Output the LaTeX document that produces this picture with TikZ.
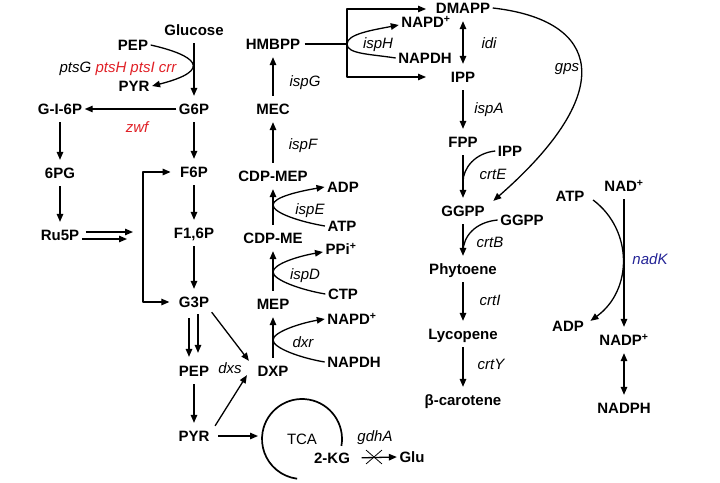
\documentclass[tikz,border=0pt]{standalone}
\usepackage{fontspec}
\setmainfont{Liberation Sans}
\usetikzlibrary{arrows.meta,shapes.misc}
\definecolor{genred}{RGB}{224,32,38}
\definecolor{genblue}{RGB}{36,36,150}
\newcommand\fs{\fontsize{15}{18}\selectfont}
\tikzset{
  met/.style={font=\fs\bfseries, text height=11pt, text depth=0pt, inner xsep=2pt, inner ysep=4pt},
  enz/.style={font=\fs\itshape, text height=11pt, text depth=0pt, inner sep=1pt},
  rx/.style={->, shorten <=3pt, shorten >=3pt},
  knock/.style={cross out, draw, line width=0.8pt, minimum width=15pt, minimum height=13pt, inner sep=0pt}
}
\begin{document}
\begin{tikzpicture}[x=1pt, y=-1pt, >={Triangle[length=8pt,width=6.5pt]}, line width=1.3pt, font=\fs, line join=round]
\def\xa{194} \def\xb{273} \def\xc{463} \def\xd{624} % columns
\useasboundingbox (0,0) rectangle (720,482);
% glycolysis, PPP
\node[met] (glc) at (\xa,30) {Glucose};
\node[met] (pep1) at (133,45) {PEP};
\node[met] (pyr1) at (134,86) {PYR};
\node[met] (g6p) at (\xa,109) {G6P};
\node[met] (gl6p) at (60,109) {G-I-6P};
\node[met] (pg6) at (60,173) {6PG};
\node[met] (ru5p) at (60,235) {Ru5P};
\node[met] (f6p) at (\xa,172) {F6P};
\node[met] (f16p) at (\xa,233) {F1,6P};
\node[met] (g3p) at (\xa,302) {G3P};
\node[met] (pep) at (\xa,371) {PEP};
\node[met] (pyr) at (\xa,436) {PYR};
\node[enz] (epts) at (118,67) {ptsG \textcolor{genred}{ptsH ptsI crr}};
\node[enz, text=genred] (ezwf) at (137,127) {zwf};
\node[enz] (edxs) at (230,368) {dxs};
% MEP pathway
\node[met] (dxp) at (\xb,371) {DXP};
\node[met] (mep) at (\xb,304) {MEP};
\node[met] (cdpme) at (\xb,238) {CDP-ME};
\node[met] (cdpmep) at (\xb,176) {CDP-MEP};
\node[met] (mec) at (\xb,109) {MEC};
\node[met] (hmbpp) at (\xb,44) {HMBPP};
\node[met] (napdp3) at (352,319) {NAPD\textsuperscript{+}};
\node[met] (napdh3) at (354,362) {NAPDH};
\node[met] (ppi) at (341,249) {PPi\textsuperscript{+}};
\node[met] (ctp) at (343,294) {CTP};
\node[met] (adp1) at (343,187) {ADP};
\node[met] (atp1) at (342,226) {ATP};
\node[met] (napdp1) at (426,22) {NAPD\textsuperscript{+}};
\node[met] (napdh1) at (425,58) {NAPDH};
\node[enz] (edxr) at (303,342) {dxr};
\node[enz] (eispD) at (305,274) {ispD};
\node[enz] (eispE) at (310,209) {ispE};
\node[enz] (eispF) at (303,144) {ispF};
\node[enz] (eispG) at (305,81) {ispG};
\node[enz] (eispH) at (378,43) {ispH};
% carotenoids
\node[met] (dmapp) at (\xc,8) {DMAPP};
\node[met] (ipp) at (\xc,77) {IPP};
\node[met] (fpp) at (\xc,142) {FPP};
\node[met] (ipp2) at (510,151) {IPP};
\node[met] (ggpp) at (\xc,211) {GGPP};
\node[met] (ggpp2) at (522,220) {GGPP};
\node[met] (phy) at (\xc,269) {Phytoene};
\node[met] (lyc) at (\xc,334) {Lycopene};
\node[met] (bcar) at (\xc,400) {β-carotene};
\node[enz] (eidi) at (489,43) {idi};
\node[enz] (eispA) at (489,108) {ispA};
\node[enz] (egps) at (567,66) {gps};
\node[enz] (ecrtE) at (493,174) {crtE};
\node[enz] (ecrtB) at (490,242) {crtB};
\node[enz] (ecrtI) at (490,300) {crtI};
\node[enz] (ecrtY) at (491,364) {crtY};
% NADPH
\node[met] (atp2) at (570,196) {ATP};
\node[met] (nad) at (\xd,186) {NAD\textsuperscript{+}};
\node[met] (adp2) at (568,326) {ADP};
\node[met] (nadp) at (\xd,340) {NADP\textsuperscript{+}};
\node[met] (nadph) at (\xd,408) {NADPH};
\node[enz, text=genblue] (enadK) at (650,259) {nadK};
% TCA
\node (tca) at (302,439) {TCA};
\node[met] (kg) at (332,458) {2-KG};
\node[met] (glu) at (412,457) {Glu};
\node[enz] (egdhA) at (375,436) {gdhA};
\node[knock] (ko) at (374,457) {};
\coordinate (Jh) at (347,44);
\coordinate (dmin) at (426,9);
\coordinate (ippin) at (426,77);
\coordinate (Je) at (\xb,205);
\coordinate (Jd) at (\xb,272);
\coordinate (Jr) at (\xb,340);
\coordinate (Jc) at (\xc,182);
\coordinate (Jb) at (\xc,252);
\coordinate (bk) at (143,235);
\coordinate (r1) at (133,232);
\coordinate (r2) at (127,239);
\coordinate (tcain) at (258,436);

\draw[rx] (glc) -- (g6p);
\draw[->] (pep1.east) .. controls (195,55) and (215,70) .. (pyr1.east);
\draw[->] (g6p) -- (gl6p);
\draw[rx] (gl6p) -- (pg6);
\draw[rx] (pg6) -- (ru5p);
\draw[->] ([shift={(4,0)}]ru5p.east |- r1) -- (r1);
\draw[->] (ru5p.east |- r2) -- (r2);
\draw[->] (bk) |- ([shift={(-7,0)}]f6p.west);
\draw[->] (bk) |- ([shift={(-7,0)}]g3p.west);
\draw[rx] (g6p) -- (f6p);
\draw[rx] (f6p) -- (f16p);
\draw[rx] (f16p) -- (g3p);
\draw[->] ([shift={(-5,6)}]g3p.south) -- ([shift={(-5,-4)}]pep.north);
\draw[->] ([shift={(4,2)}]g3p.south) -- ([shift={(4,-8)}]pep.north);
\draw[rx] (pep) -- (pyr);
\draw[->] (g3p.south east) -- ([shift={(-6,0)}]dxp.north west);
\draw[->] ([shift={(3,0)}]pyr.north east) -- ([shift={(-8,-6)}]dxp.south west);
\draw[->, shorten <=6pt] (pyr.east) -- (tcain);
\draw[line width=1.7pt] (tca.center) ++(10:40) arc[start angle=10, end angle=-263, radius=40];
\draw[->, shorten <=9pt] (kg.east) -- (glu.west);
% MEP
\draw[rx] (dxp) -- (mep);
\draw[rx] (mep) -- (cdpme);
\draw[rx] (cdpme) -- (cdpmep);
\draw[rx] (cdpmep) -- (mec);
\draw[rx] (mec) -- (hmbpp);
\draw[->] (napdh3.west) .. controls +(-24,-4) and +(0,8) .. (Jr) .. controls +(0,-8) and +(-24,4) .. (napdp3.west);
\draw[->] (ctp.west) .. controls +(-24,-4) and +(0,8) .. (Jd) .. controls +(0,-8) and +(-24,4) .. ([shift={(0,3)}]ppi.west);
\draw[->] (atp1.west) .. controls +(-24,-4) and +(0,8) .. (Je) .. controls +(0,-8) and +(-24,4) .. (adp1.west);
\draw[shorten <=2pt] (hmbpp.east) -- (Jh);
\draw[->] (napdh1.west) .. controls +(-26,-4) and +(0,10) .. (Jh) .. controls +(0,-10) and +(-26,5) .. ([shift={(0,3)}]napdp1.west);
\draw[->] (Jh) |- (dmin);
\draw[->] (Jh) |- (ippin);
% carotenoids
\draw[rx, <->] (dmapp) -- (ipp);
\draw[rx] (ipp) -- (fpp);
\draw[rx] (fpp) -- (ggpp);
\draw (ipp2.west) .. controls +(-20,2) and +(0,-14) .. (Jc);
\draw[rx] (ggpp) -- (phy);
\draw (ggpp2.west) .. controls +(-22,2) and +(0,-16) .. (Jb);
\draw[rx] (phy) -- (lyc);
\draw[rx] (lyc) -- (bcar);
\draw[->] (dmapp.east) .. controls (600,20) and (620,90) .. ([shift={(6,0)}]ggpp.north east);
% nadK
\draw[rx] (nad) -- (nadp);
\draw[->] ([shift={(6,4)}]atp2.east) .. controls (633,230) and (633,290) .. ([shift={(4,5)}]adp2.north east);
\draw[rx, <->] (nadp) -- (nadph);
\end{tikzpicture}
\end{document}
